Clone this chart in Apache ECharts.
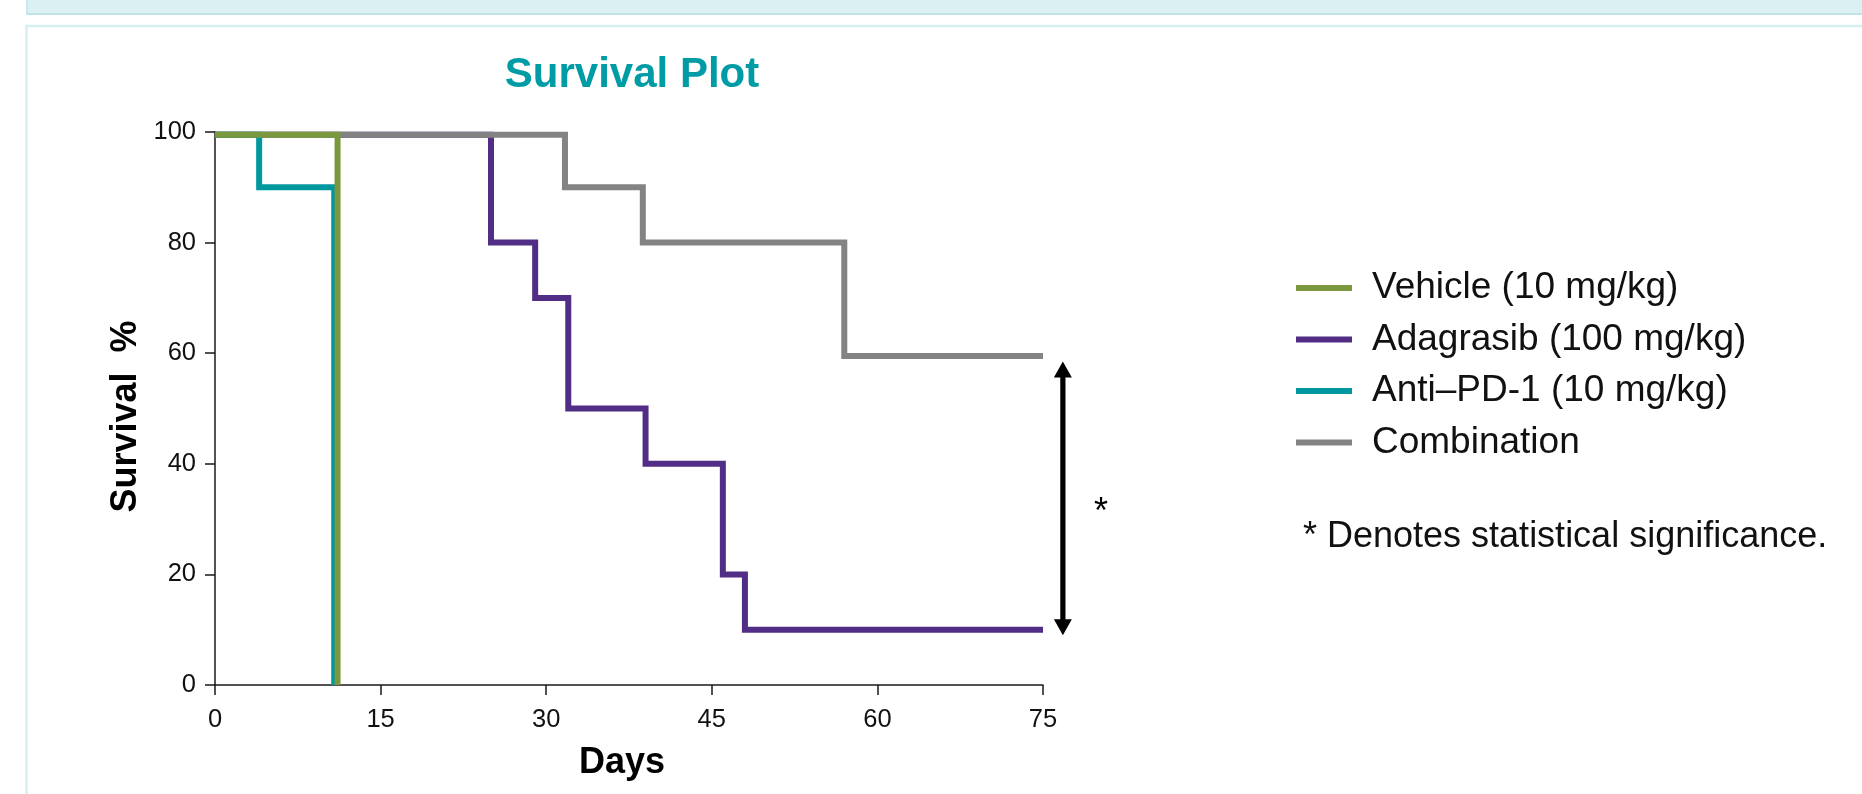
<!DOCTYPE html>
<html><head><meta charset="utf-8">
<script src="https://cdn.jsdelivr.net/npm/echarts@6/dist/echarts.min.js"></script>
<style>html,body{margin:0;padding:0;background:#fff}#c{width:1862px;height:794px}</style>
</head><body><div id="c"></div><script>
// ---- data ----
const seriesNames = ['Vehicle (10 mg/kg)', 'Adagrasib (100 mg/kg)', 'Anti–PD-1 (10 mg/kg)', 'Combination'];
const vehicleDays = [0, 11.1];
const vehicleSurvival = [99.5, 0];
const adagrasibDays = [0, 25, 29, 32, 39, 46, 48, 75];
const adagrasibSurvival = [99.5, 80, 70, 50, 40, 20, 10, 10];
const antiPd1Days = [0, 4, 10.8];
const antiPd1Survival = [99.5, 90, 0];
const combinationDays = [0, 31.7, 38.75, 57, 75];
const combinationSurvival = [99.5, 90, 80, 59.5, 59.5];
const xTicks = [0, 15, 30, 45, 60, 75];
const yTicks = [0, 20, 40, 60, 80, 100];
const arrowDay = 76.8;
const arrowTop = 58.5;
const arrowBottom = 9.0;
const titleText = 'Survival Plot';
const xName = 'Days';
const yName = 'Survival  %';
const noteText = '* Denotes statistical significance.';
const starText = '*';

// ---- build ----
const FONT = "'Liberation Sans', Arial, Helvetica, sans-serif";
const colors = ['#7a993e', '#512d85', '#00989f', '#838383'];
const zip = (xs, ys) => xs.map((x, i) => [x, ys[i]]);
const kmData = [
  zip(vehicleDays, vehicleSurvival),
  zip(adagrasibDays, adagrasibSurvival),
  zip(antiPd1Days, antiPd1Survival),
  zip(combinationDays, combinationSurvival)
];
const zOrder = [6, 3, 5, 4];

const chart = echarts.init(document.getElementById('c'), null, {renderer: 'canvas'});
const kmSeries = seriesNames.map((name, i) => ({
  name, type: 'line', step: 'end', data: kmData[i],
  showSymbol: false, symbol: 'none', z: zOrder[i], silent: true,
  color: colors[i],
  lineStyle: {color: colors[i], width: 6, cap: 'butt', join: 'miter'},
  itemStyle: {color: colors[i]}
}));
const AW = 9, AH = 16;
const arrowSeries = {
  name: 'arrow', type: 'custom', clip: false, silent: true, z: 7,
  data: [[arrowDay, arrowTop, arrowBottom]],
  encode: {x: 0, y: [1, 2]},
  renderItem: function (params, api) {
    const t = api.coord([api.value(0), api.value(1)]);
    const b = api.coord([api.value(0), api.value(2)]);
    return {type: 'group', children: [
      {type: 'line', shape: {x1: t[0], y1: t[1] + AH - 1, x2: b[0], y2: b[1] - AH + 1},
        style: {stroke: '#000', lineWidth: 5.2}},
      {type: 'polygon', shape: {points: [[t[0], t[1]], [t[0] - AW, t[1] + AH], [t[0] + AW, t[1] + AH]]},
        style: {fill: '#000'}},
      {type: 'polygon', shape: {points: [[b[0], b[1]], [b[0] - AW, b[1] - AH], [b[0] + AW, b[1] - AH]]},
        style: {fill: '#000'}}
    ]};
  }
};

chart.setOption({
  animation: false,
  backgroundColor: '#fff',
  title: {
    text: titleText, left: 632, top: 54, textAlign: 'center', padding: 0,
    textStyle: {fontFamily: FONT, fontSize: 42, fontWeight: 'bold', color: '#009ca6'}
  },
  grid: {left: 215, top: 132, width: 828, height: 553, containLabel: false},
  xAxis: {
    type: 'value', min: xTicks[0], max: xTicks[xTicks.length - 1], interval: xTicks[1] - xTicks[0],
    name: xName, nameLocation: 'middle', nameGap: 60,
    nameTextStyle: {fontFamily: FONT, fontSize: 36, fontWeight: 'bold', color: '#000', padding: [0, 14, 0, 0]},
    axisLine: {show: true, lineStyle: {color: '#1a1a1a', width: 1.5}},
    axisTick: {show: true, length: 10, lineStyle: {color: '#1a1a1a', width: 1.5}},
    axisLabel: {margin: 22, fontFamily: FONT, fontSize: 25.5, color: '#111'},
    splitLine: {show: false}
  },
  yAxis: {
    type: 'value', min: yTicks[0], max: yTicks[yTicks.length - 1], interval: yTicks[1] - yTicks[0],
    name: yName, nameLocation: 'middle', nameGap: 71,
    nameTextStyle: {fontFamily: FONT, fontSize: 36, fontWeight: 'bold', color: '#000', padding: [0, 16, 0, 0]},
    axisLine: {show: true, lineStyle: {color: '#1a1a1a', width: 1.5}},
    axisTick: {show: true, length: 10, lineStyle: {color: '#1a1a1a', width: 1.5}},
    axisLabel: {margin: 19, fontFamily: FONT, fontSize: 25.5, color: '#111', padding: [6, 0, 0, 0]},
    splitLine: {show: false}
  },
  legend: {
    data: seriesNames, orient: 'vertical', left: 1296, top: 268, padding: 0,
    icon: 'rect', itemWidth: 56, itemHeight: 6, itemGap: 11.5,
    selectedMode: false,
    textStyle: {fontFamily: FONT, fontSize: 37, color: '#111', lineHeight: 40, padding: [0, 0, 0, 15]}
  },
  graphic: {elements: [
    {type: 'rect', z: -10, shape: {x: 26, y: 0, width: 1840, height: 15}, style: {fill: '#dbf0f2'}},
    {type: 'rect', z: -9, shape: {x: 26, y: 13, width: 1840, height: 2}, style: {fill: '#bfe3e6'}},
    {type: 'rect', z: -9, shape: {x: 26, y: 0, width: 1.5, height: 15}, style: {fill: '#c6e6e9'}},
    {type: 'rect', z: -10, shape: {x: 26.5, y: 26, width: 1850, height: 790}, style: {fill: 'none', stroke: '#d6eef0', lineWidth: 2.5}},
    {type: 'text', x: 1101, y: 513, style: {text: starText, fontFamily: FONT, fontSize: 36, fill: '#000', textAlign: 'center', textVerticalAlign: 'middle'}},
    {type: 'text', x: 1303, y: 537, style: {text: noteText, fontFamily: FONT, fontSize: 36, fill: '#111', textAlign: 'left', textVerticalAlign: 'middle'}}
  ]},
  series: kmSeries.concat([arrowSeries])
});
</script></body></html>
